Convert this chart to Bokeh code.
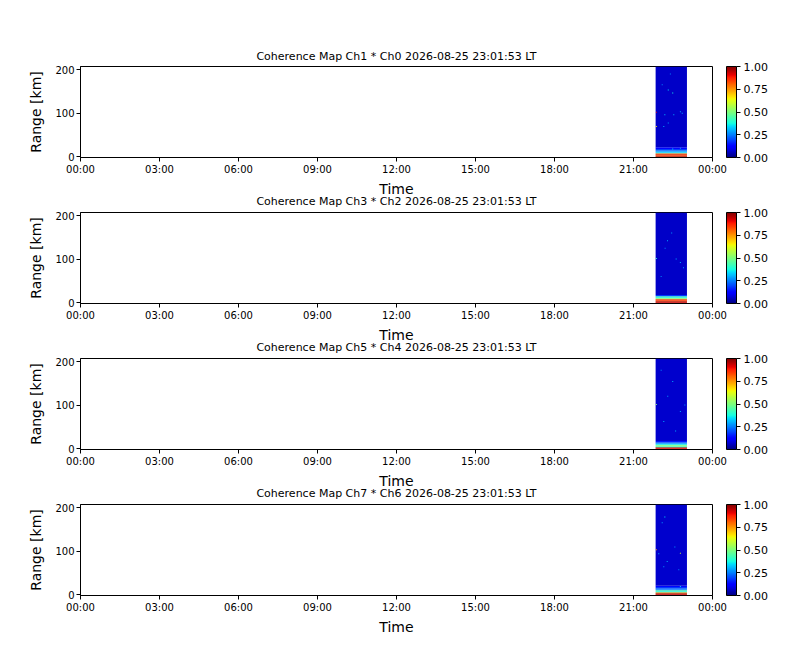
import numpy as np
from bokeh.plotting import figure
from bokeh.models import (ColumnDataSource, LinearColorMapper, ColorBar, FixedTicker,
                          Range1d, PrintfTickFormatter)
from bokeh.layouts import column
from bokeh.embed import file_html
from bokeh.resources import INLINE

# ---------------- data ----------------
TITLES = [
    "Coherence Map Ch1 * Ch0 2026-08-25 23:01:53 LT",
    "Coherence Map Ch3 * Ch2 2026-08-25 23:01:53 LT",
    "Coherence Map Ch5 * Ch4 2026-08-25 23:01:53 LT",
    "Coherence Map Ch7 * Ch6 2026-08-25 23:01:53 LT",
]
TICK_HOURS = [0, 3, 6, 9, 12, 15, 18, 21, 24]
TICK_LABELS = ["00:00", "03:00", "06:00", "09:00", "12:00", "15:00", "18:00", "21:00", "00:00"]
Y_TICKS = [0, 100, 200]
CB_TICKS = [0.0, 0.25, 0.5, 0.75, 1.0]

T_START = 21.84   # hours (~21:50 LT)
T_END = 23.03     # hours (~23:02 LT)
R_MIN = -2.3
R_MAX = 207.0
BACKGROUND = [0.065, 0.065, 0.07, 0.07]

# near-range bands: edges (km) and coherence values, bottom to top
BAND_EDGES_1 = [-2.3, 0.5, 2.8, 5.1, 7.4, 9.7, 12.0, 14.3, 17.0, 21.0]
BAND_VALUES_1 = [0.97, 0.82, 0.92, 0.78, 0.34, 0.30, 0.24, 0.19, 0.13]
BAND_EDGES_2 = [-2.3, 0.5, 2.8, 5.1, 7.4, 9.7, 12.0, 14.3, 17.0]
BAND_VALUES_2 = [0.92, 0.97, 0.83, 0.90, 0.58, 0.36, 0.42, 0.18]
BAND_EDGES_3 = [-2.3, 0.5, 2.8, 5.1, 7.4, 9.7, 12.0, 14.3, 17.0]
BAND_VALUES_3 = [0.90, 0.96, 0.40, 0.55, 0.38, 0.30, 0.22, 0.15]
BAND_EDGES_4 = [-2.3, 0.5, 2.8, 5.1, 7.4, 9.7, 12.0, 14.3, 17.0, 20.0]
BAND_VALUES_4 = [0.92, 0.97, 0.76, 0.36, 0.46, 0.26, 0.22, 0.18, 0.13]

# isolated high-coherence cells (time h, range km, coherence)
SPECK_T_1 = [21.87, 21.87, 22.32, 22.49, 22.19, 22.53, 22.85, 22.32, 22.15, 22.49, 22.78, 22.09, 22.78, 22.40]
SPECK_R_1 = [102, 69, 153, 146, 96, 96, 99.5, 77, 69, 17, 19, 165, 103, 190]
SPECK_V_1 = [0.90, 0.65, 0.35, 0.38, 0.32, 0.30, 0.30, 0.28, 0.30, 0.35, 0.30, 0.26, 0.30, 0.25]
SPECK_T_2 = [21.87, 22.29, 22.78, 22.45, 22.62, 22.05, 22.90, 22.20]
SPECK_R_2 = [101, 142, 92, 160, 100, 60, 80, 125]
SPECK_V_2 = [0.40, 0.30, 0.30, 0.28, 0.30, 0.26, 0.28, 0.26]
SPECK_T_3 = [21.87, 22.15, 22.49, 22.78, 22.30, 22.60, 22.05, 22.95]
SPECK_R_3 = [101, 62, 154, 85, 120, 40, 180, 100]
SPECK_V_3 = [0.52, 0.30, 0.30, 0.30, 0.28, 0.30, 0.26, 0.28]
SPECK_T_4 = [22.19, 22.09, 21.87, 21.96, 22.78, 22.57, 22.28, 22.15, 22.72, 22.78]
SPECK_R_4 = [178, 165, 103, 93.5, 95, 109, 76, 64, 57, 18.4]
SPECK_V_4 = [0.35, 0.28, 0.75, 0.30, 0.60, 0.28, 0.30, 0.28, 0.26, 0.35]

BANDS = [(BAND_EDGES_1, BAND_VALUES_1), (BAND_EDGES_2, BAND_VALUES_2),
         (BAND_EDGES_3, BAND_VALUES_3), (BAND_EDGES_4, BAND_VALUES_4)]
SPECKS = [(SPECK_T_1, SPECK_R_1, SPECK_V_1), (SPECK_T_2, SPECK_R_2, SPECK_V_2),
          (SPECK_T_3, SPECK_R_3, SPECK_V_3), (SPECK_T_4, SPECK_R_4, SPECK_V_4)]

# ---------------- jet colormap ----------------
def jet_palette(n=256):
    x = np.linspace(0, 1, n)
    r = np.interp(x, [0, 0.35, 0.66, 0.89, 1], [0, 0, 1, 1, 0.5])
    g = np.interp(x, [0, 0.125, 0.375, 0.64, 0.91, 1], [0, 0, 1, 1, 0, 0])
    b = np.interp(x, [0, 0.11, 0.34, 0.65, 1], [0.5, 1, 1, 0, 0])
    return ["#%02x%02x%02x" % (int(round(rr * 255)), int(round(gg * 255)), int(round(bb * 255)))
            for rr, gg, bb in zip(r, g, b)]

JET = jet_palette()
DT = 0.037   # one time column (h)
DR = 2.3     # one range gate (km)

FONT = "DejaVu Sans"
figs = []
for i in range(4):
    top_border = 66 if i == 0 else 24
    frame_h = 91
    bottom_border = 42
    p = figure(width=785, height=top_border + frame_h + bottom_border,
               output_backend="svg", toolbar_location=None,
               x_range=Range1d(0, 24), y_range=Range1d(R_MIN, R_MAX),
               min_border_left=80, min_border_right=73,
               min_border_top=top_border, min_border_bottom=bottom_border,
               title=TITLES[i])
    if i > 0:
        p.margin = (-11, 0, 0, 0)
    p.border_fill_alpha = 0
    mapper = LinearColorMapper(palette=JET, low=0, high=1)

    edges, vals = BANDS[i]
    lefts = [T_START] * (len(vals) + 1)
    rights = [T_END] * (len(vals) + 1)
    bottoms = list(edges[:-1]) + [edges[-1]]
    tops = list(edges[1:]) + [R_MAX]
    values = list(vals) + [BACKGROUND[i]]
    src = ColumnDataSource(dict(left=lefts, right=rights, bottom=bottoms, top=tops, v=values))
    p.quad(left="left", right="right", bottom="bottom", top="top", source=src,
           fill_color={"field": "v", "transform": mapper}, line_color=None)

    st, sr, sv = SPECKS[i]
    ssrc = ColumnDataSource(dict(left=[t - DT / 2 for t in st], right=[t + DT / 2 for t in st],
                                 bottom=[r - DR / 2 for r in sr], top=[r + DR / 2 for r in sr], v=sv))
    p.quad(left="left", right="right", bottom="bottom", top="top", source=ssrc,
           fill_color={"field": "v", "transform": mapper}, line_color=None)

    p.title.align = "center"
    p.title.text_font = FONT
    p.title.text_font_size = "11px"
    p.title.text_font_style = "normal"
    p.title.text_color = "black"
    p.title.standoff = 8 if i == 0 else 9

    p.xgrid.visible = False
    p.ygrid.visible = False
    p.outline_line_color = "black"
    p.outline_line_alpha = 1
    p.outline_line_width = 1

    xa = p.xaxis[0]
    xa.ticker = FixedTicker(ticks=TICK_HOURS)
    xa.major_label_overrides = {h: lab for h, lab in zip(TICK_HOURS, TICK_LABELS)}
    xa.axis_label = "Time"
    ya = p.yaxis[0]
    ya.ticker = FixedTicker(ticks=Y_TICKS)
    ya.axis_label = "Range [km]"
    for ax in (xa, ya):
        ax.minor_tick_line_color = None
        ax.major_tick_in = 0
        ax.major_tick_out = 4
        ax.major_tick_line_color = "black"
        ax.axis_line_color = "black"
        ax.major_label_text_font = FONT
        ax.major_label_text_font_size = "10px"
        ax.major_label_text_color = "black"
        ax.axis_label_text_font = FONT
        ax.axis_label_text_font_size = "14px"
        ax.axis_label_text_font_style = "normal"
        ax.axis_label_text_color = "black"
        ax.major_label_standoff = 2
    xa.axis_label_standoff = 3
    ya.axis_label_standoff = 8

    cb = ColorBar(color_mapper=mapper, ticker=FixedTicker(ticks=CB_TICKS),
                  formatter=PrintfTickFormatter(format="%.2f"),
                  width=10, height=frame_h, padding=0, margin=0, location=(14, 0),
                  major_tick_in=0, major_tick_out=4, major_tick_line_color="black",
                  bar_line_color="black", label_standoff=3,
                  major_label_text_font=FONT, major_label_text_font_size="11px",
                  major_label_text_color="black",
                  background_fill_alpha=0, border_line_color=None)
    p.add_layout(cb, "right")
    figs.append(p)

layout = column(*figs, spacing=0)
open("out.html", "w").write(file_html(layout, INLINE))
